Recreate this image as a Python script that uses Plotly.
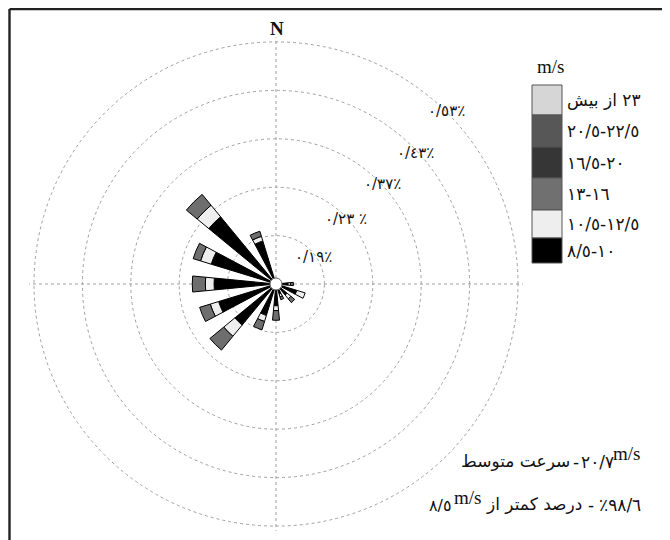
import plotly.graph_objects as go

# ---------------- data ----------------
directions = [0, 22.5, 45, 67.5, 90, 112.5, 135, 157.5,
              180, 202.5, 225, 247.5, 270, 292.5, 315, 337.5]
# frequency per speed class (stacked outward), in ring units
s_85_10   = [0, 0, 0, 0, 0.25, 0.45, 0.30, 0.22, 0.45, 0.68, 1.10, 1.24, 1.28, 1.40, 1.80, 0.93]
s_105_125 = [0, 0, 0, 0, 0.05, 0.18, 0.10, 0.06, 0.10, 0.13, 0.30, 0.18, 0.18, 0.23, 0.31, 0.10]
s_13_16   = [0, 0, 0, 0, 0.06, 0.00, 0.10, 0.06, 0.20, 0.18, 0.37, 0.23, 0.27, 0.16, 0.29, 0.11]
s_165_20  = [0] * 16
s_205_225 = [0] * 16
s_over23  = [0] * 16

series = [s_85_10, s_105_125, s_13_16, s_165_20, s_205_225, s_over23]
series_names = ["8.5-10", "10.5-12.5", "13-16", "16.5-20", "20.5-22.5", ">23"]
series_colors = ["#000000", "#eeeeee", "#6e6e6e", "#363636", "#575757", "#d6d6d6"]

ring_vals = [1, 2, 3, 4, 5]
ring_labels = ["٠/١٩٪", "٠/٢٣ ٪", "٠/٣٧٪", "٠/٤٣٪", "٠/٥٣٪"]

# legend (top to bottom)
legend_labels = ["بیش\u200e از\u200e ٢٣", "٢٠/٥-٢٢/٥", "١٦/٥-٢٠", "١٣-١٦", "١٠/٥-١٢/٥", "٨/٥-١٠"]
legend_colors = ["#d6d6d6", "#575757", "#363636", "#707070", "#eeeeee", "#000000"]

# page body has an 8px margin: work in reference pixel coordinates, shifted
OFF = 8
W, H = 670 - OFF, 540 - OFF
def px(x): return (x - OFF) / W
def py(y): return 1 - (y - OFF) / H

LRO, LRE, PDF = "\u202d", "\u202a", "\u202c"

fig = go.Figure()
for vals, name, col in zip(series, series_names, series_colors):
    fig.add_trace(go.Barpolar(
        r=vals, theta=directions, width=[11] * 16, name=name,
        marker=dict(color=col, line=dict(color="#000000", width=1)),
        showlegend=False))

# calm circle at centre
fig.add_trace(go.Scatterpolar(r=[0], theta=[0], mode="markers",
                              marker=dict(size=12, color="white", line=dict(color="#666", width=1)),
                              showlegend=False, hoverinfo="skip"))

rmax = 5.1
cx, cy = 276, 284
R = 242 * rmax / 5
fig.update_layout(
    width=W, height=H,
    margin=dict(l=0, r=0, t=0, b=0),
    paper_bgcolor="white",
    showlegend=False,
    polar=dict(
        domain=dict(x=[px(cx - R), px(cx + R)], y=[py(cy + R), py(cy - R)]),
        bgcolor="white",
        barmode="stack",
        angularaxis=dict(direction="clockwise", rotation=90,
                         tickmode="array", tickvals=[0, 90, 180, 270],
                         showticklabels=False, ticks="",
                         showline=False, showgrid=True,
                         gridcolor="#a0a0a0", griddash="dot", gridwidth=1),
        radialaxis=dict(range=[0, rmax], tickmode="array", tickvals=ring_vals,
                        showticklabels=False, ticks="", showline=False,
                        showgrid=True, gridcolor="#a0a0a0", griddash="dot", gridwidth=1),
    ),
)

def note(x, y, text, size=15, family="DejaVu Sans", xa="center", ya="middle"):
    return dict(x=px(x), y=py(y), xref="paper", yref="paper", text=text, showarrow=False,
                xanchor=xa, yanchor=ya, font=dict(family=family, size=size, color="#111"))

ann = []
# N label
ann.append(note(277, 28, "<b>N</b>", size=19, family="Liberation Serif"))
# ring labels
ring_pos = [(313, 257), (346, 219), (382, 184), (415, 153), (446, 111)]
for (x, y), t in zip(ring_pos, ring_labels):
    ann.append(note(x, y, LRO + t + PDF, size=15))

# legend
ann.append(note(550, 66, "m/s", size=19, family="Liberation Serif"))
row_edges = [85, 115, 147, 178, 210, 238, 263]
shapes = []
for i, (lab, col) in enumerate(zip(legend_labels, legend_colors)):
    y0, y1 = row_edges[i], row_edges[i + 1]
    shapes.append(dict(type="rect", xref="paper", yref="paper",
                       x0=px(532), x1=px(562), y0=py(y1), y1=py(y0),
                       fillcolor=col, line=dict(color="#555", width=1)))
    t = (LRE if i == 0 else LRO) + lab + PDF
    ann.append(note(565, (y0 + y1) / 2, t, size=17, xa="left"))

# bottom notes
fs = 17
ann.append(note(572, 461, "سرعت متوسط", fs, xa="right"))
ann.append(note(576, 462, "-", fs))
ann.append(note(579, 462, LRO + "٢٠/٧" + PDF, fs, xa="left"))
ann.append(note(611, 453, "m/s", 19, "Liberation Serif", xa="left"))

ann.append(note(427, 505, LRO + "٨/٥" + PDF, 16, xa="left"))
ann.append(note(452, 497, "m/s", 19, "Liberation Serif", xa="left"))
ann.append(note(584, 504, "درصد کمتر از", fs, xa="right"))
ann.append(note(591, 505, "-", fs))
ann.append(note(597, 505, LRO + "٪٩٨/٦" + PDF, fs, xa="left"))

# frame (top and left edges visible)
shapes.append(dict(type="line", xref="paper", yref="paper", x0=px(9.5), x1=1.0, y0=py(9), y1=py(9),
                   line=dict(color="#222", width=2.4)))
shapes.append(dict(type="line", xref="paper", yref="paper", x0=px(9.5), x1=px(9.5), y0=0, y1=py(9),
                   line=dict(color="#222", width=2.4)))

fig.update_layout(annotations=ann, shapes=shapes)
fig.write_html("out.html")
